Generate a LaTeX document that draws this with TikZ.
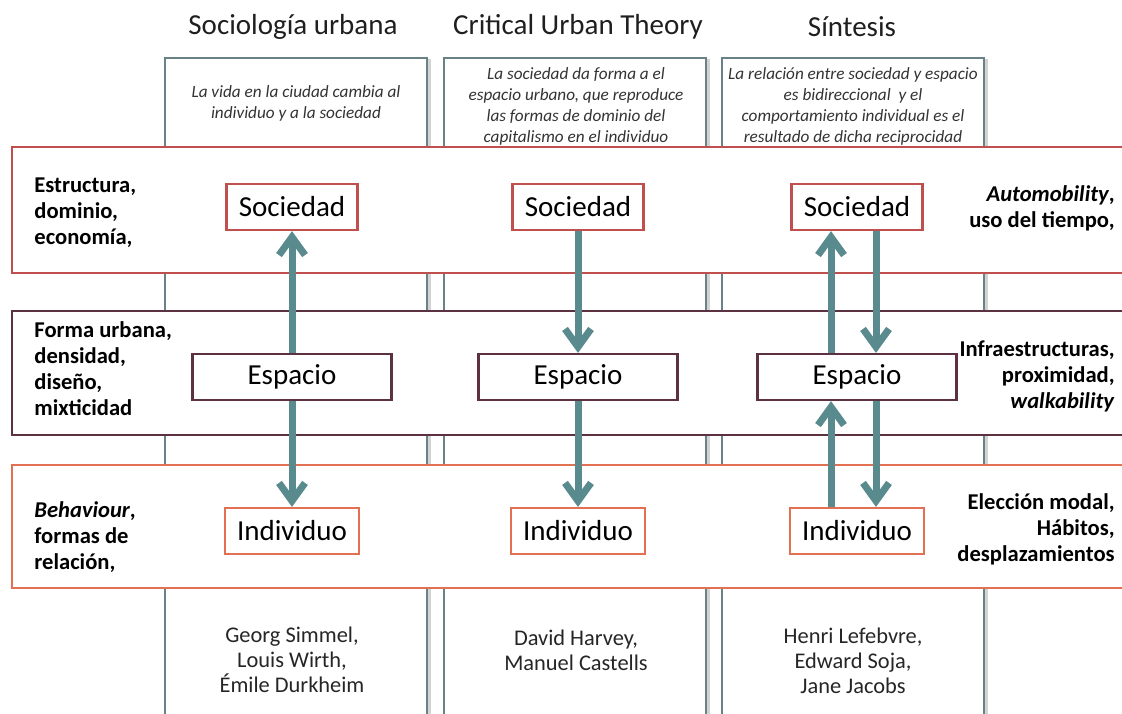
\documentclass[tikz,border=0pt]{standalone}
\usepackage{fontspec}
\setmainfont{Carlito}
\usetikzlibrary{arrows.meta,shadows}
\definecolor{colline}{RGB}{105,130,136}
\definecolor{socred}{RGB}{192,80,77}
\definecolor{espmaroon}{RGB}{92,50,66}
\definecolor{indorange}{RGB}{226,112,82}
\definecolor{arrteal}{RGB}{88,138,142}
\begin{document}
\begin{tikzpicture}[x=0.5pt,y=-0.5pt,node distance=85pt]
\tikzstyle{colbox}=[draw=colline, line width=1pt, fill=white, drop shadow={shadow xshift=1.8pt, shadow yshift=-0.5pt, opacity=0.35}]
\tikzstyle{band}=[fill=white, line width=1.1pt]
\tikzstyle{title}=[font=\fontsize{14.5}{17}\selectfont, text=black!88]
\tikzstyle{note}=[font=\fontsize{8.6}{10.5}\selectfont\itshape, align=center, text=black!80, inner sep=0pt]
\tikzstyle{sidelbl}=[font=\fontsize{11.3}{13}\selectfont\bfseries, inner sep=0pt]
\tikzstyle{names}=[font=\fontsize{11.2}{12.6}\selectfont, align=center, text=black!85, inner sep=0pt]
\tikzstyle{bx}=[rectangle, fill=white, line width=1.1pt, minimum height=23pt, inner sep=0pt, font=\fontsize{14.5}{17}\selectfont]
\tikzstyle{soc}=[bx, draw=socred, minimum width=65.5pt]
\tikzstyle{esp}=[bx, draw=espmaroon, minimum width=99.5pt]
\tikzstyle{ind}=[bx, draw=indorange, minimum width=67pt]
\tikzstyle{flow}=[draw=arrteal, line width=3.5pt, -{Straight Barb[length=9pt,width=13pt]}]
\useasboundingbox (0,0) rectangle (1122,713);
\clip (0,0) rectangle (1122,713);
\draw[colbox] (165,58) rectangle (427,740);
\draw[colbox] (444,58) rectangle (706,740);
\draw[colbox] (722,58) rectangle (984,740);
\node[title] (t1) at (293,27) {Sociología urbana};
\node[title] (t2) at (578,27) {Critical Urban Theory};
\node[title] (t3) at (852,27) {Síntesis};
\node[note] (n1) at (296,103) {La vida en la ciudad cambia al\\individuo y a la sociedad};
\node[note] (n2) at (576,106) {La sociedad da forma a el\\espacio urbano, que reproduce\\las formas de dominio del\\capitalismo en el individuo};
\node[note] (n3) at (853,106) {La relación entre sociedad y espacio\\es bidireccional \ y el\\comportamiento individual es el\\resultado de dicha reciprocidad};
\draw[band, draw=socred] (12,147) rectangle (1140,273);
\draw[band, draw=espmaroon] (12,311) rectangle (1140,435);
\draw[band, draw=indorange] (12,465) rectangle (1140,588);
\node[sidelbl, align=left, anchor=west] (l1) at (34,213) {Estructura,\\dominio,\\economía,};
\node[sidelbl, align=left, anchor=west] (l2) at (34,369) {Forma urbana,\\densidad,\\diseño,\\mixticidad};
\node[sidelbl, align=left, anchor=west] (l3) at (34,537) {\textit{Behaviour},\\formas de\\relación,};
\node[sidelbl, align=right, anchor=east] (r1) at (1115,208) {\textit{Automobility},\\uso del tiempo,};
\node[sidelbl, align=right, anchor=east] (r2) at (1115,376) {Infraestructuras,\\proximidad,\\\textit{walkability}};
\node[sidelbl, align=right, anchor=east] (r3) at (1115,529) {Elección modal,\\Hábitos,\\desplazamientos};
\node[soc] (soc1) at (292,207) {Sociedad};
\node[esp, below of=soc1] (esp1) {Espacio};
\node[ind, below of=esp1, node distance=77pt] (ind1) {Individuo};
\node[soc] (soc2) at (578,207) {Sociedad};
\node[esp, below of=soc2] (esp2) {Espacio};
\node[ind, below of=esp2, node distance=77pt] (ind2) {Individuo};
\node[soc] (soc3) at (857,207) {Sociedad};
\node[esp, below of=soc3] (esp3) {Espacio};
\node[ind, below of=esp3, node distance=77pt] (ind3) {Individuo};
\draw[flow] (esp1) -- (soc1);
\draw[flow] (esp1) -- (ind1);
\draw[flow] (soc2) -- (esp2);
\draw[flow] (esp2) -- (ind2);
\draw[flow] ([xshift=-13pt]ind3.north) -- ([xshift=-13pt]esp3.south);
\draw[flow] ([xshift=-13pt]esp3.north) -- ([xshift=-13pt]soc3.south);
\draw[flow] ([xshift=9.5pt]soc3.south) -- ([xshift=9.5pt]esp3.north);
\draw[flow] ([xshift=9.5pt]esp3.south) -- ([xshift=9.5pt]ind3.north);
\node[names] (a1) at (292,660) {Georg Simmel,\\Louis Wirth,\\Émile Durkheim};
\node[names] (a2) at (576,650) {David Harvey,\\Manuel Castells};
\node[names] (a3) at (853,661) {Henri Lefebvre,\\Edward Soja,\\Jane Jacobs};
\end{tikzpicture}
\end{document}
